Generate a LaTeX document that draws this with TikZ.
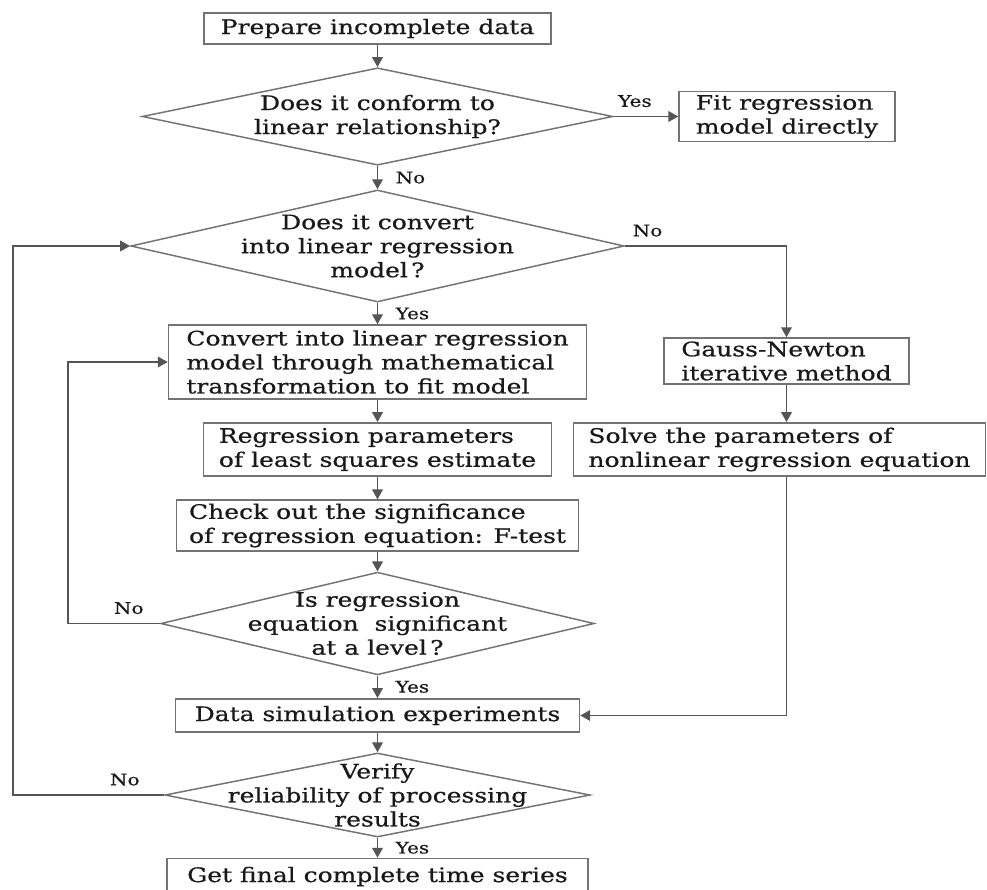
\documentclass[tikz,border=0pt]{standalone}
\usepackage{fontspec}
\setmainfont{DejaVu Serif}[FakeStretch=1.25,FakeBold=0.6]
\usetikzlibrary{arrows.meta,shapes.geometric}
\definecolor{linegray}{RGB}{85,85,85}
\definecolor{boxgray}{RGB}{115,115,115}
\definecolor{txtgray}{RGB}{25,25,25}
\tikzset{
  box/.style={draw=boxgray, line width=1.1pt, inner sep=2pt, align=left, text=txtgray, font=\fontsize{15}{18}\selectfont},
  decision/.style={diamond, draw=boxgray, line width=1.1pt, inner sep=0pt},
  dtext/.style={align=center, inner sep=0pt, text=txtgray, font=\fontsize{15}{18}\selectfont},
  flow/.style={draw=linegray, line width=1.2pt, -{Triangle[length=7.5pt,width=8pt]}},
  lbl/.style={inner sep=1pt, text=txtgray, font=\fontsize{12}{14}\selectfont},
}
\begin{document}
\begin{tikzpicture}[x=0.75pt,y=0.75pt,yscale=-1,xscale=1]
\useasboundingbox (0,0) rectangle (987,889);
\clip (0,0) rectangle (987,889);
\fill[white] (0,0) rectangle (987,889);
\node[box, minimum width=260pt, minimum height=23pt] (prep) at (377.5,28.5) {Prepare incomplete data};
\node[decision, minimum width=353pt, minimum height=73pt] (d1) at (377.5,116.5) {};
\node[dtext] (d1t) at (d1) {Does it conform to\\linear relationship?};
\node[box, minimum width=162pt, minimum height=37.5pt] (fit) at (787,116.5) {Fit regression\\model directly};
\node[decision, minimum width=370pt, minimum height=84pt] (d2) at (377.5,246) {};
\node[dtext] (d2t) at (d2) {Does it convert\\into linear regression\\model\,?};
\node[box, minimum width=313.5pt, minimum height=55.5pt] (conv) at (377.5,362) {Convert into linear regression\\model through mathematical\\transformation to fit model};
\node[box, minimum width=261pt, minimum height=40pt] (regp) at (377.5,449.5) {Regression parameters\\of least squares estimate};
\node[box, minimum width=301.5pt, minimum height=38pt] (check) at (377.5,525.5) {Check out the significance\\of regression equation: F-test};
\node[decision, minimum width=325pt, minimum height=77pt] (d3) at (377.5,623.5) {};
\node[dtext] (d3t) at (d3) {Is regression\\equation\ \ significant\\at a level\,?};
\node[box, minimum width=303pt, minimum height=25pt] (data) at (377.5,715.5) {Data simulation experiments};
\node[decision, minimum width=319pt, minimum height=63pt] (d4) at (377.5,795) {};
\node[dtext] (d4t) at (d4) {Verify\\reliability of processing\\results};
\node[box, minimum width=316pt, minimum height=27pt] (final) at (377.5,876.5) {Get final complete time series};
\node[box, minimum width=184pt, minimum height=34.5pt] (gauss) at (786.5,361) {Gauss-Newton\\iterative method};
\node[box, minimum width=309pt, minimum height=40pt] (solve) at (779.5,449.5) {Solve the parameters of\\nonlinear regression equation};
\coordinate (lp1) at (68,623.5);
\coordinate (lp2) at (13,795);
\draw[flow] (prep) -- (d1);
\draw[flow] (d1.east) -- node[lbl, above=5.5pt, pos=0.33] (yes1) {Yes} (fit.west);
\draw[flow] (d1.south) -- node[lbl, right=12pt] (no1) {No} (d2.north);
\draw[flow] (d2.east) -| node[lbl, above=5.5pt, pos=0.07] (no2) {No} (gauss.north);
\draw[flow] (d2.south) -- node[lbl, right=12pt] (yes2) {Yes} (conv.north);
\draw[flow] (conv) -- (regp);
\draw[flow] (regp) -- (check);
\draw[flow] (check.south) -- (d3.north);
\draw[flow] (d3.west) -- node[lbl, above=5.5pt, pos=0.34] (no3) {No} (lp1) |- (conv.west);
\draw[flow] (d3.south) -- node[lbl, right=12pt] (yes3) {Yes} (data.north);
\draw[flow] (gauss.south) -- (gauss.south |- solve.north);
\draw[flow] (solve.south -| gauss.south) |- (data.east);
\draw[flow] (data.south) -- (d4.north);
\draw[flow] (d4.west) -- node[lbl, above=5.5pt, pos=0.26] (no4) {No} (lp2) |- (d2.west);
\draw[flow] (d4.south) -- node[lbl, right=12pt] (yes4) {Yes} (final.north);
\end{tikzpicture}
\end{document}
